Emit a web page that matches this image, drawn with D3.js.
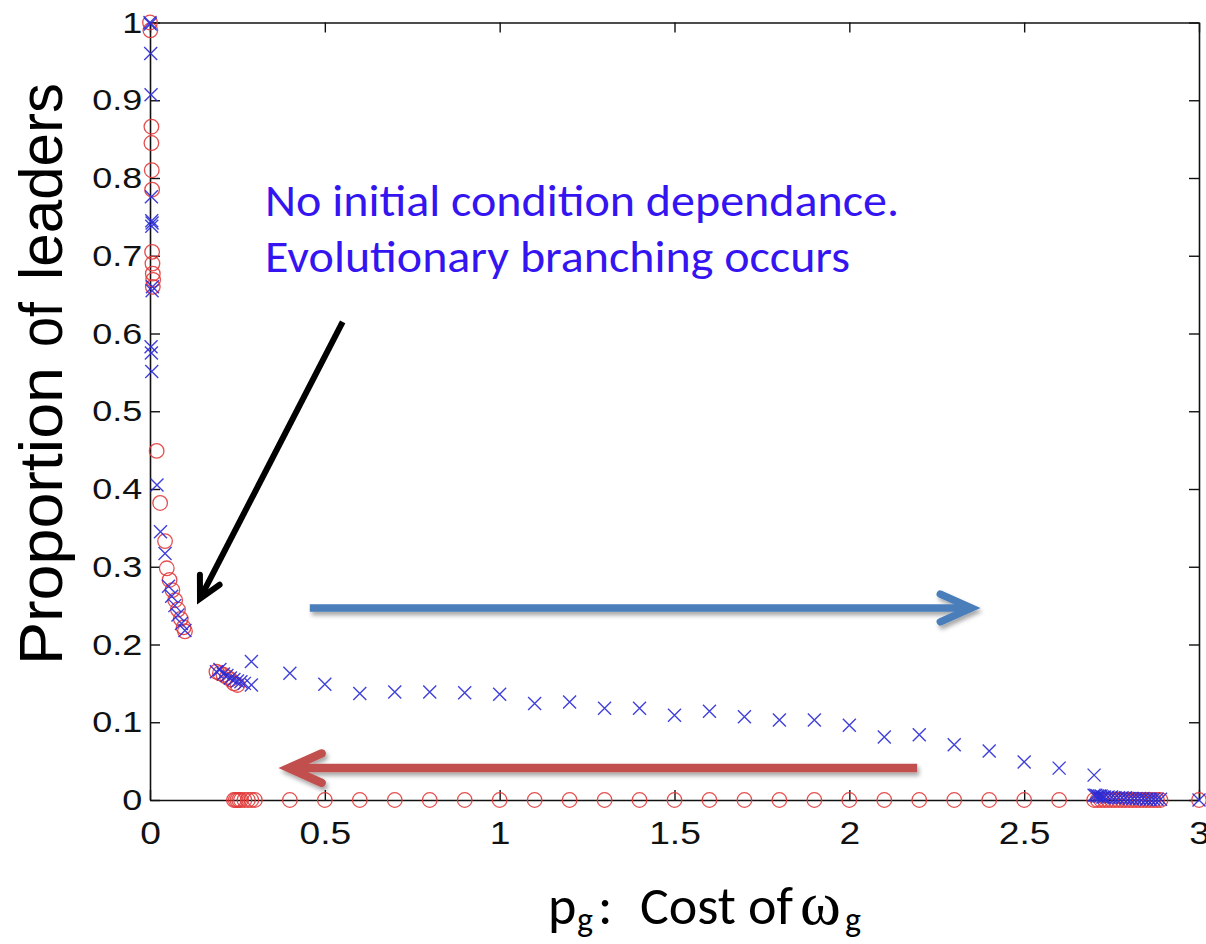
<!DOCTYPE html>
<html>
<head>
<meta charset="utf-8">
<script src="https://cdn.jsdelivr.net/npm/d3@7"></script>
<style>
  html, body { margin: 0; padding: 0; background: #ffffff; }
  svg { display: block; }
  .tick text { font-family: "Liberation Sans", Arial, sans-serif; fill: #111; }
</style>
</head>
<body>
<svg id="chart" width="1206" height="944"></svg>
<script>
// ---- data: proportion of leaders vs. cost p_g, two initial conditions ----
// red circles: run started from a low initial proportion of leaders
const runLowCost = [
  [0.000, 1.000], [0.001, 0.990], [0.004, 0.866], [0.004, 0.845], [0.005, 0.810],
  [0.006, 0.785], [0.006, 0.705], [0.007, 0.690], [0.008, 0.677], [0.009, 0.669],
  [0.008, 0.660], [0.019, 0.449], [0.029, 0.382], [0.043, 0.333], [0.048, 0.298],
  [0.056, 0.283], [0.064, 0.270], [0.072, 0.257], [0.080, 0.245], [0.088, 0.233],
  [0.096, 0.222], [0.100, 0.217],
  [0.19, 0.165], [0.20, 0.163], [0.21, 0.161], [0.22, 0.158], [0.23, 0.155],
  [0.24, 0.150], [0.25, 0.148]
];
const runLowZero = [
  [0.240, 0], [0.245, 0], [0.250, 0], [0.255, 0], [0.260, 0], [0.270, 0],
  [0.280, 0], [0.290, 0], [0.300, 0],
  [0.4, 0], [0.5, 0], [0.6, 0], [0.7, 0], [0.8, 0], [0.9, 0], [1.0, 0],
  [1.1, 0], [1.2, 0], [1.3, 0], [1.4, 0], [1.5, 0], [1.6, 0], [1.7, 0],
  [1.8, 0], [1.9, 0], [2.0, 0], [2.1, 0], [2.2, 0], [2.3, 0], [2.4, 0],
  [2.5, 0], [2.6, 0],
  [2.70, 0], [2.71, 0], [2.72, 0], [2.73, 0], [2.74, 0], [2.75, 0], [2.76, 0],
  [2.77, 0], [2.78, 0], [2.79, 0], [2.80, 0], [2.81, 0], [2.82, 0], [2.83, 0],
  [2.84, 0], [2.85, 0], [2.86, 0], [2.87, 0], [2.88, 0], [2.89, 0],
  [3.0, 0]
];
// blue crosses: run started from a high initial proportion of leaders
const runHighCost = [
  [0.000, 1.000], [0.001, 0.998], [0.002, 0.960], [0.003, 0.907], [0.004, 0.776],
  [0.005, 0.745], [0.005, 0.738], [0.006, 0.742], [0.006, 0.655], [0.007, 0.660],
  [0.003, 0.583], [0.004, 0.575], [0.005, 0.551],
  [0.020, 0.405], [0.030, 0.345], [0.043, 0.317], [0.053, 0.275], [0.062, 0.262],
  [0.071, 0.250], [0.080, 0.238], [0.090, 0.227], [0.100, 0.218],
  [0.19, 0.165], [0.20, 0.168], [0.21, 0.162], [0.22, 0.160], [0.23, 0.157],
  [0.24, 0.155], [0.25, 0.153], [0.26, 0.152], [0.27, 0.150], [0.29, 0.178],
  [0.29, 0.148],
  [0.4, 0.163], [0.5, 0.149], [0.6, 0.137], [0.7, 0.139], [0.8, 0.139],
  [0.9, 0.138], [1.0, 0.136], [1.1, 0.124], [1.2, 0.126], [1.3, 0.118],
  [1.4, 0.118], [1.5, 0.109], [1.6, 0.114], [1.7, 0.107], [1.8, 0.103],
  [1.9, 0.103], [2.0, 0.096], [2.1, 0.081], [2.2, 0.084], [2.3, 0.071],
  [2.4, 0.063], [2.5, 0.049], [2.6, 0.041], [2.7, 0.032]
];
const runHighTail = [
  [2.700, 0.006], [2.705, 0.006], [2.710, 0.005], [2.715, 0.005], [2.720, 0.005],
  [2.725, 0.004], [2.730, 0.004], [2.740, 0.004], [2.750, 0.004], [2.760, 0.003],
  [2.770, 0.003], [2.780, 0.003], [2.790, 0.003], [2.800, 0.002], [2.810, 0.002],
  [2.820, 0.002], [2.830, 0.002], [2.840, 0.002], [2.850, 0.001], [2.860, 0.001],
  [2.870, 0.001], [2.880, 0.001], [2.890, 0.001], [3.0, 0.000]
];

const xTicks = [0, 0.5, 1, 1.5, 2, 2.5, 3];
const xTickLabels = ["0", "0.5", "1", "1.5", "2", "2.5", "3"];
const yTicks = [0, 0.1, 0.2, 0.3, 0.4, 0.5, 0.6, 0.7, 0.8, 0.9, 1];
const yTickLabels = ["0", "0.1", "0.2", "0.3", "0.4", "0.5", "0.6", "0.7", "0.8", "0.9", "1"];

// annotation arrows, in data units: [from, to]
const noteArrow = [[0.551, 0.615], [0.143, 0.259]];
const forwardArrow = [[0.457, 0.247], [2.349, 0.247]];
const backwardArrow = [[2.194, 0.041], [0.397, 0.041]];
const noteLines = ["No initial condition dependance.", "Evolutionary branching occurs"];
const yTitleWords = ["Proportion", "of", "leaders"];

// ---- layout ----
const svg = d3.select("#chart");
const x = d3.scaleLinear().domain([0, 3]).range([150, 1199]);
const y = d3.scaleLinear().domain([0, 1]).range([800, 22.5]);

const defs = svg.append("defs");
const sh = defs.append("filter").attr("id", "shadow")
  .attr("x", "-10%").attr("y", "-50%").attr("width", "120%").attr("height", "200%");
sh.append("feDropShadow").attr("dx", 2).attr("dy", 3.5)
  .attr("stdDeviation", 2.2).attr("flood-color", "#000").attr("flood-opacity", 0.35);

// axes with inward ticks on all four sides
const tickLen = 10;
const stretch = 1.2;
function styleAxis(g) {
  g.selectAll("path.domain").attr("stroke", "#111").attr("stroke-width", 1.6);
  g.selectAll(".tick line").attr("stroke", "#111").attr("stroke-width", 1.4);
}
const gBottom = svg.append("g").attr("transform", `translate(0,${y(0)})`)
  .call(d3.axisBottom(x).tickValues(xTicks).tickSizeInner(-tickLen).tickSizeOuter(0)
    .tickPadding(22).tickFormat((d, i) => xTickLabels[i]));
gBottom.selectAll(".tick text").attr("font-size", 31)
  .attr("transform", `scale(${stretch},1)`);
styleAxis(gBottom);

const gLeft = svg.append("g").attr("transform", `translate(${x(0)},0)`)
  .call(d3.axisLeft(y).tickValues(yTicks).tickSizeInner(-tickLen).tickSizeOuter(0)
    .tickPadding(6.5).tickFormat((d, i) => yTickLabels[i]));
gLeft.selectAll(".tick text").attr("font-size", 30)
  .attr("transform", `scale(${stretch},1)`);
styleAxis(gLeft);

const gTop = svg.append("g").attr("transform", `translate(0,${y(1)})`)
  .call(d3.axisTop(x).tickValues(xTicks).tickSizeInner(-tickLen).tickSizeOuter(0).tickFormat(""));
styleAxis(gTop);

const gRight = svg.append("g").attr("transform", `translate(${x(3)},0)`)
  .call(d3.axisRight(y).tickValues(yTicks).tickSizeInner(-tickLen).tickSizeOuter(0).tickFormat(""));
styleAxis(gRight);

// ---- markers ----
const circleColor = "#e23b3b";
const crossColor = "#2b2bd6";
const runLow = runLowCost.concat(runLowZero);
const runHigh = runHighCost.concat(runHighTail);

svg.append("g").selectAll("circle").data(runLow).join("circle")
  .attr("cx", d => x(d[0])).attr("cy", d => y(d[1])).attr("r", 7.3)
  .attr("fill", "none").attr("stroke", circleColor).attr("stroke-width", 1.3)
  .attr("stroke-opacity", 0.9);

const cs = 6.5;
svg.append("g").selectAll("path").data(runHigh).join("path")
  .attr("d", d => {
    const cx = x(d[0]), cy = y(d[1]);
    return `M${cx - cs},${cy - cs}L${cx + cs},${cy + cs}M${cx - cs},${cy + cs}L${cx + cs},${cy - cs}`;
  })
  .attr("fill", "none").attr("stroke", crossColor).attr("stroke-width", 1.4)
  .attr("stroke-opacity", 0.9);

// ---- annotation arrows ----
function arrow(pts, color, width, headLen, headAngle, shadow) {
  const [a, b] = pts;
  const x0 = x(a[0]), y0 = y(a[1]), x1 = x(b[0]), y1 = y(b[1]);
  const ang = Math.atan2(y0 - y1, x0 - x1);
  const h1 = [x1 + headLen * Math.cos(ang + headAngle), y1 + headLen * Math.sin(ang + headAngle)];
  const h2 = [x1 + headLen * Math.cos(ang - headAngle), y1 + headLen * Math.sin(ang - headAngle)];
  const g = svg.append("g");
  if (shadow) g.attr("filter", "url(#shadow)");
  g.append("path").attr("d", `M${x0},${y0}L${x1},${y1}`)
    .attr("stroke", color).attr("stroke-width", width).attr("fill", "none");
  g.append("path").attr("d", `M${h1[0]},${h1[1]}L${x1},${y1}L${h2[0]},${h2[1]}`)
    .attr("stroke", color).attr("stroke-width", width).attr("fill", "none")
    .attr("stroke-linejoin", "miter").attr("stroke-linecap", "round");
}
arrow(noteArrow, "#000000", 6, 24, 0.48, false);
arrow(forwardArrow, "#4a7ebb", 7.5, 34, 0.42, true);
arrow(backwardArrow, "#c0504d", 8.5, 36, 0.42, true);

// ---- annotation text ----
const noteFont = "Carlito, Calibri, Lato, sans-serif";
svg.append("text").attr("x", x(0.329)).attr("y", y(0.751))
  .attr("font-family", noteFont).attr("font-size", 46).attr("fill", "#3414f0")
  .attr("textLength", 634).attr("lengthAdjust", "spacingAndGlyphs")
  .text(noteLines[0]);
svg.append("text").attr("x", x(0.329)).attr("y", y(0.679))
  .attr("font-family", noteFont).attr("font-size", 46).attr("fill", "#3414f0")
  .attr("textLength", 585).attr("lengthAdjust", "spacingAndGlyphs")
  .text(noteLines[1]);

// ---- axis titles ----
const xt = svg.append("text").attr("y", 924)
  .attr("font-family", noteFont).attr("font-size", 54).attr("fill", "#000");
xt.append("tspan").attr("x", 548).text("p");
xt.append("tspan").attr("x", 577).attr("font-size", 34).attr("dy", 7).text("g");
xt.append("tspan").attr("x", 598).attr("dy", -7).text(":");
xt.append("tspan").attr("x", 640).text("Cost of");
xt.append("tspan").attr("x", 800).attr("font-family", "'Liberation Serif', serif")
  .attr("font-size", 62).text("ω");
xt.append("tspan").attr("x", 845).attr("font-size", 34).attr("dy", 7).text("g");

// y title: three words laid along the left edge, reading upwards
const yTitleSpans = [[665, 298], [347, 45], [280, 197]]; // [start, length] in px along y
yTitleWords.forEach((w, i) => {
  svg.append("text")
    .attr("transform", `translate(62,${yTitleSpans[i][0]}) rotate(-90)`)
    .attr("font-family", "'Liberation Sans', Arial, sans-serif").attr("font-size", 62)
    .attr("fill", "#000").attr("textLength", yTitleSpans[i][1])
    .attr("lengthAdjust", "spacingAndGlyphs")
    .text(w);
});
</script>
</body>
</html>
